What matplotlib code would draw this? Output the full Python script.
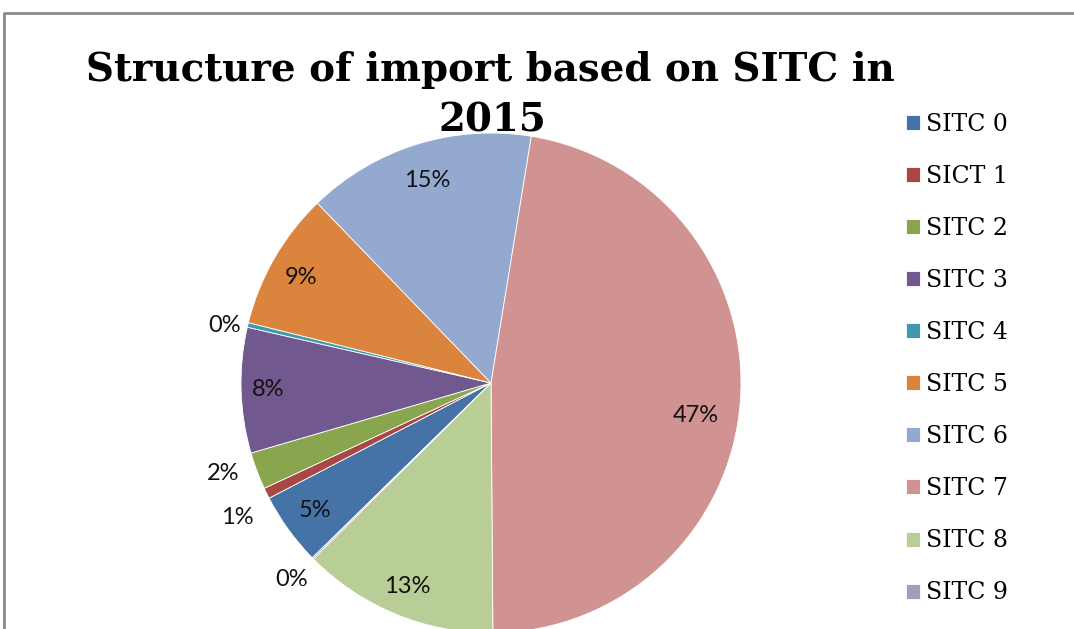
import numpy as np
import matplotlib.pyplot as plt
from matplotlib.lines import Line2D

categories = ["SITC 0", "SICT 1", "SITC 2", "SITC 3", "SITC 4",
              "SITC 5", "SITC 6", "SITC 7", "SITC 8", "SITC 9"]
shares = [4.7, 0.7, 2.4, 8.1, 0.3, 8.9, 14.8, 47.3, 12.7, 0.1]
colors = ["#4572A7", "#AA4643", "#89A54E", "#71588F", "#4198AF",
          "#DB843D", "#93A9CF", "#D19392", "#B9CD96", "#A99BBD"]
# percentage label placement: radius fraction and angle nudge (deg)
label_r = [0.87, 1.15, 1.13, 0.89, 1.09, 0.87, 0.85, 0.83, 0.88, 1.12]
label_shift = [0, 1.8, -2.0, 0, 1.2, 1.0, 0, -4.5, 0, 0]

W, H = 1074, 629
fig = plt.figure(figsize=(W / 100, H / 100), dpi=100)

# chart frame (only top and left edges visible)
fig.add_artist(Line2D([4 / W, 4 / W, 1], [0, 1 - 13 / H, 1 - 13 / H],
                      transform=fig.transFigure, color="#8a8a8a", lw=2))

cx, cy, r = 491, 383, 250
ax = fig.add_axes([(cx - r) / W, (H - cy - r) / H, 2 * r / W, 2 * r / H])
wedges, _ = ax.pie(shares, colors=colors, startangle=224.35, counterclock=False,
                   radius=1, wedgeprops=dict(edgecolor="white", linewidth=0.6))
ax.set_xlim(-1, 1)
ax.set_ylim(-1, 1)
ax.set_aspect("equal")
ax.axis("off")

total = sum(shares)
for w, v, lr, sh in zip(wedges, shares, label_r, label_shift):
    mid = np.deg2rad((w.theta1 + w.theta2) / 2 + sh)
    ax.text(lr * np.cos(mid), lr * np.sin(mid), f"{v / total * 100:.0f}%",
            ha="center", va="center", fontsize=17, family="Lato", color="#111111",
            clip_on=False)

fig.text(490 / W, 1 - 70 / H, "Structure of import based on SITC in",
         ha="center", va="center", fontsize=27.9, weight="bold", family="DejaVu Serif")
fig.text(492 / W, 1 - 120 / H, "2015",
         ha="center", va="center", fontsize=27.9, weight="bold", family="DejaVu Serif")

fig.legend(wedges, categories, loc="upper left", bbox_to_anchor=(906 / W, 1 - 113 / H),
           frameon=False, prop=dict(family="DejaVu Serif", size=17),
           handlelength=0.6, handleheight=0.6, handletextpad=0.25, labelspacing=1.23,
           borderaxespad=0, borderpad=0)

fig.savefig("out.png", dpi=100)
